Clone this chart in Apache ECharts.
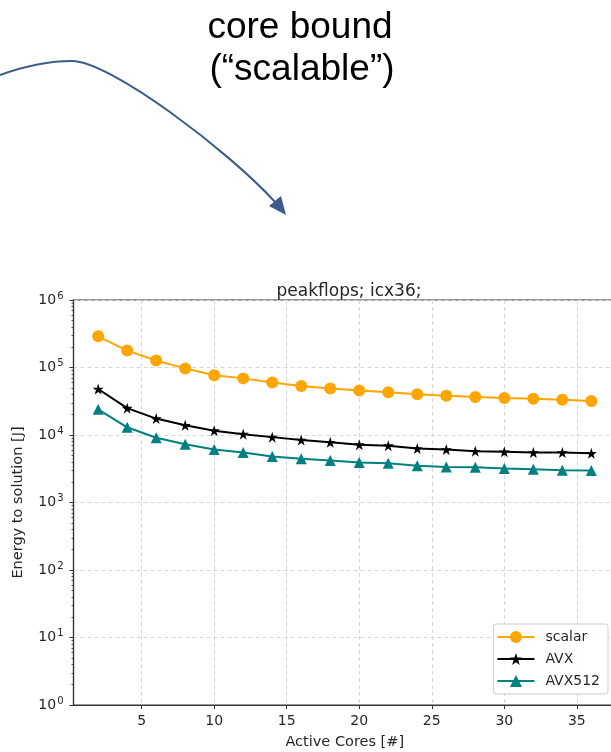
<!DOCTYPE html>
<html>
<head>
<meta charset="utf-8">
<script src="https://cdn.jsdelivr.net/npm/echarts@6/dist/echarts.min.js"></script>
<style>
  html, body { margin: 0; padding: 0; background: #fff; }
  #main { width: 611px; height: 752px; }
</style>
</head>
<body>
<div id="main"></div>
<script>
// active cores
var cores = [2, 4, 6, 8, 10, 12, 14, 16, 18, 20, 22, 24, 26, 28, 30, 32, 34, 36];
// energy to solution [J]
var scalarVals = [290000, 178000, 127000, 97000, 77000, 69000, 60000, 53000, 49000, 45500, 43000, 40000, 38000, 36500, 35300, 34500, 33300, 32000];
var avxVals = [48000, 25000, 17500, 13900, 11600, 10300, 9300, 8400, 7800, 7200, 6950, 6300, 6100, 5750, 5650, 5500, 5500, 5350];
var avx512Vals = [24000, 13000, 9100, 7300, 6100, 5500, 4800, 4450, 4200, 3900, 3800, 3500, 3370, 3320, 3200, 3100, 3000, 2980];
var xTickVals = [5, 10, 15, 20, 25, 30, 35];
var seriesNames = ['scalar', 'AVX', 'AVX512'];

function pairs(vals) {
    var out = [];
    for (var i = 0; i < cores.length; i++) {
        out.push([cores[i], vals[i]]);
    }
    return out;
}

// minor ticks of the log axis (2..9 in every decade), in exponent units
var minorTicks = [];
for (var d = 0; d < 6; d++) {
    for (var k = 2; k <= 9; k++) {
        minorTicks.push(d + Math.log10(k));
    }
}

var myChart = echarts.init(document.getElementById('main'));
var textColor = '#262626';
var gridLine = {show: true, lineStyle: {color: '#d6d6d6', type: [4, 3], width: 1}};
var arrowColor = '#3b5b8c';

var option = {
    animation: false,
    title: {
        text: 'peakflops; icx36;',
        left: 344,
        top: 278,
        textAlign: 'center',
        textStyle: {fontFamily: 'DejaVu Sans', fontSize: 17, fontWeight: 'normal', color: textColor}
    },
    grid: {
        left: 73.5,
        top: 300,
        width: 542.5,
        height: 405,
        outerBoundsMode: 'none',
        show: true,
        borderColor: '#333',
        borderWidth: 1.2,
        backgroundColor: 'transparent'
    },
    legend: {
        data: seriesNames,
        orient: 'vertical',
        right: 3,
        top: 624,
        itemWidth: 37,
        itemHeight: 15,
        itemGap: 8,
        padding: [6, 8, 6, 3],
        borderColor: '#cccccc',
        borderWidth: 1,
        borderRadius: 3,
        backgroundColor: 'rgba(255,255,255,0.85)',
        textStyle: {fontFamily: 'DejaVu Sans', fontSize: 14, color: textColor, padding: [0, 0, 0, 6]}
    },
    xAxis: {
        type: 'value',
        min: 0.3,
        max: 37.7,
        name: 'Active Cores [#]',
        nameLocation: 'middle',
        nameGap: 30,
        nameTextStyle: {fontFamily: 'DejaVu Sans', fontSize: 14.5, color: textColor},
        axisLine: {show: true, lineStyle: {color: '#333', width: 1.2}},
        axisTick: {show: true, customValues: xTickVals, length: 4, lineStyle: {color: '#333'}},
        axisLabel: {customValues: xTickVals, fontFamily: 'DejaVu Sans', fontSize: 14, color: textColor, margin: 9},
        splitLine: gridLine
    },
    yAxis: [
        {
            type: 'log',
            logBase: 10,
            min: 1,
            max: 1000000,
            splitNumber: 6,
            name: 'Energy to solution [J]',
            nameLocation: 'middle',
            nameGap: 48,
            nameTextStyle: {fontFamily: 'DejaVu Sans', fontSize: 14.5, color: textColor},
            axisLine: {show: true, lineStyle: {color: '#333', width: 1.2}},
            axisTick: {show: true, length: 4, lineStyle: {color: '#333'}},
            axisLabel: {
                margin: 10,
                formatter: function (v) {
                    var e = Math.round(Math.log10(v));
                    return '{b|10}{s|' + e + '}';
                },
                rich: {
                    b: {fontFamily: 'DejaVu Sans', fontSize: 14, color: textColor, lineHeight: 18},
                    s: {fontFamily: 'DejaVu Sans', fontSize: 10, color: textColor, lineHeight: 18, padding: [0, 0, 8, 1]}
                }
            },
            splitLine: gridLine
        },
        {
            // minor ticks only
            type: 'value',
            min: 0,
            max: 6,
            position: 'left',
            axisLine: {show: false},
            axisTick: {show: true, customValues: minorTicks, length: 2, lineStyle: {color: '#333', width: 0.8}},
            axisLabel: {show: false},
            splitLine: {show: false}
        }
    ],
    graphic: [
        {
            type: 'text',
            x: 300,
            y: 9,
            style: {text: 'core bound', font: '37px "Liberation Sans", Arial, sans-serif', fill: '#000', align: 'center', verticalAlign: 'top'}
        },
        {
            type: 'text',
            x: 302,
            y: 51,
            style: {text: '(\u201cscalable\u201d)', font: '37px "Liberation Sans", Arial, sans-serif', fill: '#000', align: 'center', verticalAlign: 'top'}
        },
        {
            type: 'bezierCurve',
            shape: {x1: 0, y1: 75, cpx1: 25, cpy1: 66, cpx2: 50, cpy2: 61, x2: 72, y2: 61},
            style: {stroke: arrowColor, lineWidth: 2, fill: null}
        },
        {
            type: 'bezierCurve',
            shape: {x1: 72, y1: 61, cpx1: 110, cpy1: 61, cpx2: 229, cpy2: 151, x2: 276, y2: 203},
            style: {stroke: arrowColor, lineWidth: 2, fill: null}
        },
        {
            type: 'polygon',
            shape: {points: [[286, 215], [269, 206], [281, 196]]},
            style: {fill: arrowColor}
        }
    ],
    series: [
        {
            name: 'scalar',
            type: 'line',
            data: pairs(scalarVals),
            symbol: 'circle',
            symbolSize: 12,
            color: '#ffa500',
            lineStyle: {width: 2}
        },
        {
            name: 'AVX',
            type: 'line',
            data: pairs(avxVals),
            symbol: 'path://M50,0 L61.8,35.4 L99,35.4 L69.1,57.3 L80.9,92.7 L50,70.8 L19.1,92.7 L30.9,57.3 L1,35.4 L38.2,35.4 Z',
            symbolSize: 11,
            color: '#000000',
            lineStyle: {width: 2}
        },
        {
            name: 'AVX512',
            type: 'line',
            data: pairs(avx512Vals),
            symbol: 'triangle',
            symbolSize: 11,
            color: '#008080',
            lineStyle: {width: 2}
        }
    ]
};

myChart.setOption(option);
</script>
</body>
</html>
